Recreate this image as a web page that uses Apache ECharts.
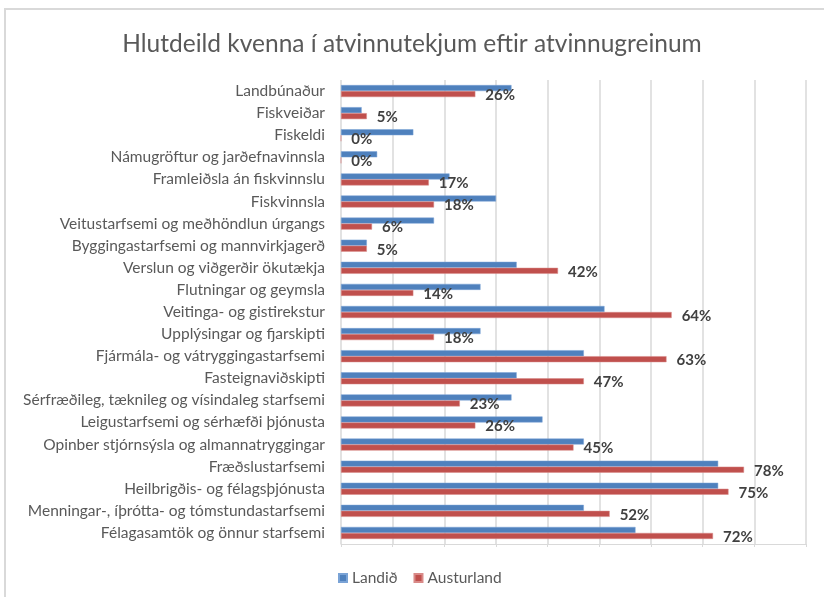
<!DOCTYPE html>
<html>
<head>
<meta charset="utf-8">
<style>
  html, body { margin: 0; padding: 0; background: #ffffff; }
  #chart { width: 824px; height: 597px; }
</style>
<script src="https://cdn.jsdelivr.net/npm/echarts@6/dist/echarts.min.js"></script>
</head>
<body>
<div id="chart"></div>
<script>
// Industry categories, top to bottom
const categories = [
  'Landbúnaður',
  'Fiskveiðar',
  'Fiskeldi',
  'Námugröftur og jarðefnavinnsla',
  'Framleiðsla án fiskvinnslu',
  'Fiskvinnsla',
  'Veitustarfsemi og meðhöndlun úrgangs',
  'Byggingastarfsemi og mannvirkjagerð',
  'Verslun og viðgerðir ökutækja',
  'Flutningar og geymsla',
  'Veitinga- og gistirekstur',
  'Upplýsingar og fjarskipti',
  'Fjármála- og vátryggingastarfsemi',
  'Fasteignaviðskipti',
  'Sérfræðileg, tæknileg og vísindaleg starfsemi',
  'Leigustarfsemi og sérhæfði þjónusta',
  'Opinber stjórnsýsla og almannatryggingar',
  'Fræðslustarfsemi',
  'Heilbrigðis- og félagsþjónusta',
  'Menningar-, íþrótta- og tómstundastarfsemi',
  'Félagasamtök og önnur starfsemi'
];

// Women's share of earned income (%), whole country
const landid = [33, 4, 14, 7, 21, 30, 18, 5, 34, 27, 51, 27, 47, 34, 33, 39, 47, 73, 73, 47, 57];

// Women's share of earned income (%), East Iceland
const austurland = [26, 5, 0, 0, 17, 18, 6, 5, 42, 14, 64, 18, 63, 47, 23, 26, 45, 78, 75, 52, 72];

const seriesNames = ['Landið', 'Austurland'];
const titleText = 'Hlutdeild kvenna í atvinnutekjum eftir atvinnugreinum';

const FONT = 'Lato, "Open Sans", sans-serif';
const chart = echarts.init(document.getElementById('chart'), null, { renderer: 'canvas' });

chart.setOption({
  backgroundColor: '#ffffff',
  animation: false,
  textStyle: { fontFamily: FONT },
  graphic: [{
    type: 'rect',
    shape: { x: 5, y: 9, width: 830, height: 600 },
    style: { fill: 'none', stroke: '#d9d9d9', lineWidth: 2 },
    silent: true,
    z: -1
  }],
  title: {
    text: titleText,
    left: 'center',
    top: 27,
    textStyle: { fontFamily: FONT, fontSize: 24.5, fontWeight: 'normal', color: '#595959' }
  },
  legend: {
    data: seriesNames,
    bottom: 6,
    left: 333,
    icon: 'rect',
    itemWidth: 8,
    itemHeight: 8,
    itemGap: 16,
    textStyle: { fontFamily: FONT, fontSize: 15.5, color: '#595959' }
  },
  grid: { left: 341, right: 18, top: 80, bottom: 53, containLabel: false },
  xAxis: {
    type: 'value',
    min: 0,
    max: 90,
    interval: 10,
    axisLabel: { show: false },
    axisTick: { show: true, length: 3, lineStyle: { color: '#d9d9d9' } },
    axisLine: { show: true, lineStyle: { color: '#d9d9d9', width: 1 } },
    splitLine: { show: true, lineStyle: { color: '#d9d9d9', width: 1.5 } }
  },
  yAxis: {
    type: 'category',
    data: categories,
    inverse: true,
    axisLine: { show: false },
    axisTick: { show: false },
    axisLabel: { fontFamily: FONT, fontSize: 15.5, color: '#595959', margin: 16 }
  },
  series: [
    {
      name: seriesNames[0],
      type: 'bar',
      data: landid,
      barWidth: 6,
      barGap: '0%',
      itemStyle: { color: '#4F81BD', borderColor: '#7aa3d6', borderWidth: 0.5 }
    },
    {
      name: seriesNames[1],
      type: 'bar',
      data: austurland,
      barWidth: 6,
      barGap: '0%',
      itemStyle: { color: '#C0504D', borderColor: '#d98a88', borderWidth: 0.5 },
      label: {
        show: true,
        position: 'right',
        distance: 10,
        offset: [0, 1],
        formatter: '{c}%',
        fontFamily: FONT,
        fontSize: 15,
        fontWeight: 'bold',
        color: '#404040'
      }
    }
  ]
});
</script>
</body>
</html>
